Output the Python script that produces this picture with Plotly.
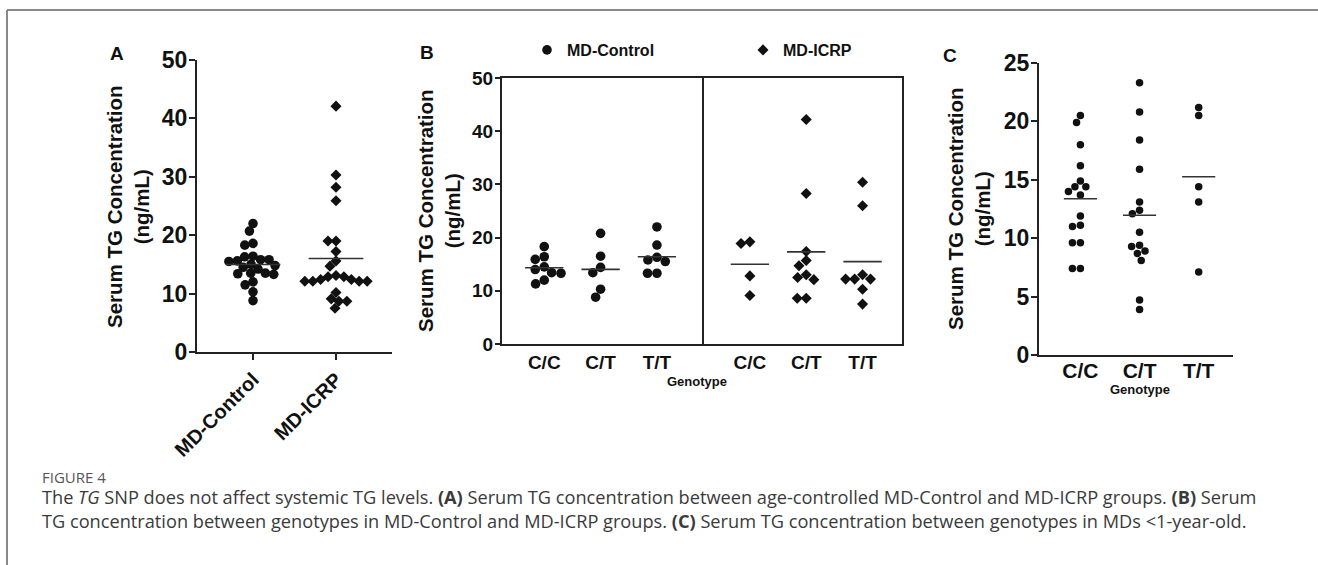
import numpy as np
import plotly.graph_objects as go

W, H = 1318, 565

# ---------------- data ----------------
groups_a = ["MD-Control", "MD-ICRP"]
a_control = [22.0, 20.7, 18.6, 18.3, 16.4, 16.3, 15.8, 15.8, 15.6, 15.5, 15.0,
             14.8, 14.5, 14.2, 13.5, 13.5, 13.4, 13.3, 12.0, 11.5, 10.3, 8.8]
a_icrp = [42.1, 30.3, 28.2, 25.9, 19.0, 19.0, 17.2, 15.6, 14.7, 13.1, 12.9,
          12.4, 12.4, 12.1, 12.1, 12.1, 12.1, 12.9, 10.2, 9.1, 8.7, 8.7, 7.5]

genotypes = ["C/C", "C/T", "T/T"]
b_control_cc = [15.9, 18.3, 16.4, 13.4, 14.5, 14.0, 13.3, 11.3, 12.0]
b_control_ct = [20.8, 16.5, 13.4, 14.4, 8.8, 10.3]
b_control_tt = [22.0, 18.6, 16.3, 15.8, 15.5, 13.3, 13.3]
b_icrp_cc = [18.9, 19.2, 12.8, 9.1]
b_icrp_ct = [42.2, 28.3, 17.4, 14.7, 15.7, 12.5, 13.0, 12.1, 8.6, 8.6]
b_icrp_tt = [30.4, 26.0, 13.0, 12.2, 12.2, 12.2, 10.3, 7.5]

c_cc = [19.9, 20.5, 18.0, 16.2, 14.9, 14.0, 14.4, 14.4, 13.7, 11.9, 11.0, 11.1,
        9.6, 9.6, 7.4, 7.4]
c_ct = [23.3, 20.8, 18.4, 15.9, 13.1, 12.4, 12.1, 10.5, 9.3, 9.4, 8.9, 8.7,
        8.1, 4.7, 3.9]
c_tt = [21.2, 20.5, 14.4, 13.1, 7.1]

y_ticks_a = [0, 10, 20, 30, 40, 50]
y_ticks_b = [0, 10, 20, 30, 40, 50]
y_ticks_c = [0, 5, 10, 15, 20, 25]

# ---------------- layout geometry (pixels) ----------------
A_X = (197, 392); A_Y = (352, 60); A_RX = [-0.675, 1.675]; A_RY = [0, 50]
BL_X = (502, 702); BR_X = (702, 902); B_Y = (344, 78)
BL_RX = [-0.75, 2.8]; BR_RX = [-0.85, 2.7]; B_RY = [0, 50]
C_X = (1039, 1233); C_Y = (355, 63); C_RX = [-0.7, 2.58]; C_RY = [0, 25]

INK = "#111111"
LINE = "#222222"
FONT = "Liberation Sans, Arial, sans-serif"


def xdom(p):
    return [p[0] / W, p[1] / W]


def ydom(p):
    return [1 - p[0] / H, 1 - p[1] / H]


def ppu(pix, rng):
    return abs(pix[1] - pix[0]) / (rng[1] - rng[0])


def swarm(values, px_y, px_x, diam):
    """Deterministic beeswarm offsets (in category units)."""
    vals = np.asarray(values, dtype=float)
    order = np.argsort(-vals, kind="stable")
    placed = []
    off = np.zeros(len(vals))
    for i in order:
        y = vals[i] * px_y
        forb = []
        for xp, yp in placed:
            dy = abs(y - yp)
            if dy < diam:
                dx = np.sqrt(diam ** 2 - dy ** 2)
                forb.append((xp - dx, xp + dx))
        cands = [0.0] + [e for f in forb for e in f]
        cands = sorted(cands, key=lambda c: (round(abs(c), 6), c))
        x = 0.0
        for c in cands:
            if all(not (a + 1e-6 < c < b - 1e-6) for a, b in forb):
                x = c
                break
        placed.append((x, y))
        off[i] = x / px_x
    return off


fig = go.Figure()


def add_group(vals, pos, xa, ya, px_y, px_x, diam, symbol, size, half,
              name=None, legend=False):
    off = swarm(vals, px_y, px_x, diam)
    fig.add_trace(go.Scatter(
        x=pos + off, y=vals, mode="markers", xaxis=xa, yaxis=ya,
        marker=dict(symbol=symbol, size=size, color=INK, line=dict(width=0)),
        name=name, showlegend=legend, hoverinfo="y"))
    m = float(np.mean(vals))
    fig.add_trace(go.Scatter(
        x=[pos - half, pos + half], y=[m, m], mode="lines", xaxis=xa, yaxis=ya,
        line=dict(color="#333333", width=1.6), showlegend=False, hoverinfo="skip"))


# Panel A
pyA, pxA = ppu(A_Y, A_RY), ppu(A_X, A_RX)
add_group(a_control, 0, "x", "y", pyA, pxA, 8.4, "circle", 9.6, 0.33)
add_group(a_icrp, 1, "x", "y", pyA, pxA, 8.0, "diamond", 8.5, 0.33)

# Panel B
pyB, pxBL, pxBR = ppu(B_Y, B_RY), ppu(BL_X, BL_RX), ppu(BR_X, BR_RX)
for k, vals in enumerate([b_control_cc, b_control_ct, b_control_tt]):
    add_group(vals, k, "x2", "y2", pyB, pxBL, 9.4, "circle", 9.6, 0.34,
              name="MD-Control", legend=(k == 0))
for k, vals in enumerate([b_icrp_cc, b_icrp_ct, b_icrp_tt]):
    add_group(vals, k, "x3", "y3", pyB, pxBR, 9.0, "diamond", 8.5, 0.34,
              name="MD-ICRP", legend=(k == 0))

# Panel C
pyC, pxC = ppu(C_Y, C_RY), ppu(C_X, C_RX)
for k, vals in enumerate([c_cc, c_ct, c_tt]):
    add_group(vals, k, "x4", "y4", pyC, pxC, 8.0, "circle", 7.5, 0.28)

axis_common = dict(showgrid=False, zeroline=False, showline=True,
                   linecolor=LINE, linewidth=2, fixedrange=True, automargin=False)
ytick_font = dict(family=FONT, size=23, color=INK, weight="bold")
cat_font_b = dict(family=FONT, size=19, color=INK, weight="bold")

fig.update_layout(
    template="none",
    width=W, height=H, margin=dict(l=0, r=0, t=0, b=0, pad=0, autoexpand=False),
    paper_bgcolor="white", plot_bgcolor="white",
    font=dict(family=FONT, color=INK),
    xaxis=dict(domain=xdom(A_X), range=A_RX, anchor="y", tickvals=[0, 1],
               ticktext=groups_a, tickangle=-45, ticks="outside", ticklen=6,
               tickwidth=2, tickcolor=LINE,
               tickfont=dict(family=FONT, size=20, color=INK, weight="bold"),
               **axis_common),
    yaxis=dict(domain=ydom(A_Y), range=A_RY, anchor="x", tickvals=y_ticks_a,
               ticks="outside", ticklen=6, tickwidth=2, tickcolor=LINE,
               ticklabelstandoff=-3, tickfont=ytick_font, **axis_common),
    xaxis2=dict(domain=xdom(BL_X), range=BL_RX, anchor="y2", tickvals=[0, 1, 2],
                ticktext=genotypes, ticks="", mirror=True, ticklabelstandoff=0,
                tickfont=cat_font_b, **axis_common),
    yaxis2=dict(domain=ydom(B_Y), range=B_RY, anchor="x2", tickvals=y_ticks_b,
                ticks="outside", ticklen=5, tickwidth=2, tickcolor=LINE, mirror=True,
                ticklabelstandoff=-2,
                tickfont=dict(family=FONT, size=19, color=INK, weight="bold"),
                **axis_common),
    xaxis3=dict(domain=xdom(BR_X), range=BR_RX, anchor="y3", tickvals=[0, 1, 2],
                ticktext=genotypes, ticks="", mirror=True, ticklabelstandoff=0,
                tickfont=cat_font_b, **axis_common),
    yaxis3=dict(domain=ydom(B_Y), range=B_RY, anchor="x3", showticklabels=False,
                ticks="", side="right", mirror=False, **axis_common),
    xaxis4=dict(domain=xdom(C_X), range=C_RX, anchor="y4", tickvals=[0, 1, 2],
                ticktext=genotypes, ticks="", ticklabelstandoff=-4,
                tickfont=dict(family=FONT, size=21, color=INK, weight="bold"),
                **axis_common),
    yaxis4=dict(domain=ydom(C_Y), range=C_RY, anchor="x4", tickvals=y_ticks_c,
                ticks="outside", ticklen=6, tickwidth=2, tickcolor=LINE,
                ticklabelstandoff=-3, tickfont=ytick_font, **axis_common),
    legend=dict(orientation="h", x=527 / W, y=1 - 50 / H, xanchor="left",
                yanchor="middle", entrywidth=171, entrywidthmode="pixels",
                font=dict(family=FONT, size=16, color=INK, weight="bold"),
                bgcolor="rgba(0,0,0,0)", borderwidth=0,
                itemclick=False, itemdoubleclick=False),
    showlegend=True,
)

ann = []


def txt(x, y, text, size, angle=0, xanchor="center", color=INK, family=FONT,
        weight="bold", align="center"):
    ann.append(dict(x=x / W, y=1 - y / H, xref="paper", yref="paper", text=text,
                    showarrow=False, textangle=angle, xanchor=xanchor,
                    yanchor="middle", align=align,
                    font=dict(family=family, size=size, color=color, weight=weight)))


ytitle = "Serum TG Concentration<br>(ng/mL)"
txt(117, 53, "A", 19)
txt(427, 52, "B", 19)
txt(950, 55, "C", 19)
txt(128, 207, ytitle, 20.5, angle=-90)
txt(439, 211, ytitle, 20.5, angle=-90)
txt(969, 209, ytitle, 20.5, angle=-90)
txt(697, 381, "Genotype", 13)
txt(1140, 389, "Genotype", 13)

CAP = "Open Sans, Lato, sans-serif"
txt(40, 477, "FIGURE 4", 15, xanchor="left", color="#555555", family=CAP,
    weight="normal")
txt(40, 509,
    "The <i>TG</i> SNP does not affect systemic TG levels. <b>(A)</b> Serum TG "
    "concentration between age-controlled MD-Control and MD-ICRP groups. "
    "<b>(B)</b> Serum<br>"
    "TG concentration between genotypes in MD-Control and MD-ICRP groups. "
    "<b>(C)</b> Serum TG concentration between genotypes in MDs &lt;1-year-old.",
    18.2, xanchor="left", color="#3a3a3a", family=CAP, weight="normal",
    align="left")

fig.update_layout(annotations=ann)

# outer frame (top and left rules of the figure box)
fig.add_shape(type="line", xref="paper", yref="paper", x0=7 / W, x1=1.0,
              y0=1 - 10 / H, y1=1 - 10 / H, line=dict(color="#8a8a8a", width=2))
fig.add_shape(type="line", xref="paper", yref="paper", x0=7 / W, x1=7 / W,
              y0=1 - 10 / H, y1=0, line=dict(color="#8a8a8a", width=2))

fig.write_html("out.html", config={"displayModeBar": False})
